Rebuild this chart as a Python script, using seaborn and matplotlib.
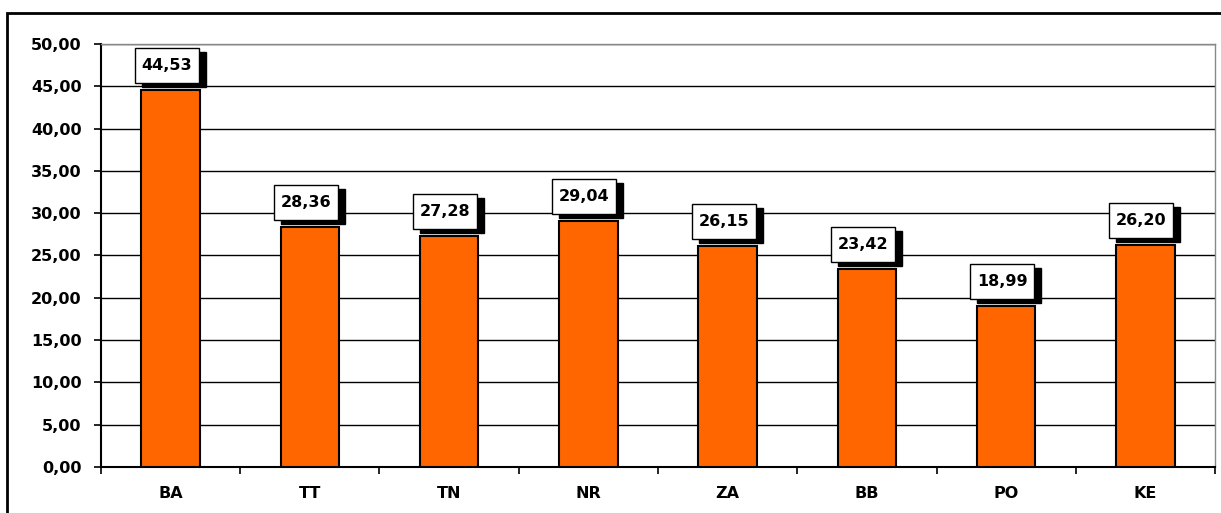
import numpy as np
import pandas as pd
import matplotlib
matplotlib.use("Agg")
import matplotlib.pyplot as plt
import matplotlib.ticker as mticker
import matplotlib.transforms as mtransforms
from matplotlib.patches import Rectangle
import seaborn as sns

# Chart data
regions = ["BA", "TT", "TN", "NR", "ZA", "BB", "PO", "KE"]
values = [44.53, 28.36, 27.28, 29.04, 26.15, 23.42, 18.99, 26.20]
y_ticks = np.arange(0, 55, 5)

df = pd.DataFrame({"region": regions, "value": values})

sns.set_style("white")
plt.rcParams["font.family"] = ["DejaVu Sans"]
plt.rcParams["font.weight"] = "bold"
plt.rcParams["text.color"] = "black"
plt.rcParams["xtick.color"] = "black"
plt.rcParams["ytick.color"] = "black"

fig, ax = plt.subplots(figsize=(12.21, 5.13), dpi=100)
fig.subplots_adjust(left=0.0827, right=0.9951, top=0.9142, bottom=0.0897)

sns.barplot(data=df, x="region", y="value", color="#FF6600", saturation=1,
            width=0.42, edgecolor="black", linewidth=1.5, ax=ax, zorder=3)

ax.set_ylim(0, 50)
ax.set_xlim(-0.5, len(regions) - 0.5)
ax.set_yticks(y_ticks)
ax.yaxis.set_major_formatter(mticker.FuncFormatter(lambda v, p: f"{v:.2f}".replace(".", ",")))
ax.set_xlabel("")
ax.set_ylabel("")

# gridlines
ax.yaxis.grid(True, color="black", linewidth=1)
ax.set_axisbelow(True)

# ticks: labels at category centres, tick marks between categories
ax.set_xticks(np.arange(-0.5, len(regions)), minor=True)
ax.tick_params(axis="x", which="major", bottom=True, length=0, pad=14, labelsize=11.5,
               labelcolor="black")
ax.tick_params(axis="x", which="minor", bottom=True, length=5, width=1.2,
               direction="out", color="black")
ax.tick_params(axis="y", left=True, length=5, width=1.2, direction="out", color="black",
               pad=9, labelsize=11.5, labelcolor="black")
for lab in ax.get_xticklabels() + ax.get_yticklabels():
    lab.set_fontweight("bold")

for side in ["left", "bottom"]:
    ax.spines[side].set_color("black")
    ax.spines[side].set_linewidth(1.5)
for side in ["top", "right"]:
    ax.spines[side].set_color("#888888")
    ax.spines[side].set_linewidth(1)

# value labels in boxes with a drop shadow (box sizes in pixels)
box_w, box_h = 64, 35
for i, v in enumerate(values):
    txt = f"{v:.2f}".replace(".", ",")
    anchor = mtransforms.ScaledTranslation(i, v, ax.transData)
    shadow = Rectangle((-box_w / 2 + 3, -box_h / 2 + 20.5), box_w, box_h,
                       transform=mtransforms.Affine2D() + anchor,
                       fc="black", ec="black", lw=1, zorder=4, clip_on=False)
    box = Rectangle((-box_w / 2 - 4, -box_h / 2 + 24.5), box_w, box_h,
                    transform=mtransforms.Affine2D() + anchor,
                    fc="white", ec="black", lw=1, zorder=5, clip_on=False)
    ax.add_artist(shadow)
    ax.add_artist(box)
    ax.annotate(txt, xy=(i, v), xytext=(-4, 24.5), textcoords="offset pixels",
                ha="center", va="center", fontsize=11.5, fontweight="bold",
                color="black", zorder=6)

# outer frame of the chart
fig.patches.append(Rectangle((7 / 1221, -0.05), 1.1, 1 - 13 / 513 + 0.05,
                             transform=fig.transFigure, fill=False,
                             edgecolor="black", linewidth=2, zorder=0))

fig.savefig("out.png", dpi=100)
